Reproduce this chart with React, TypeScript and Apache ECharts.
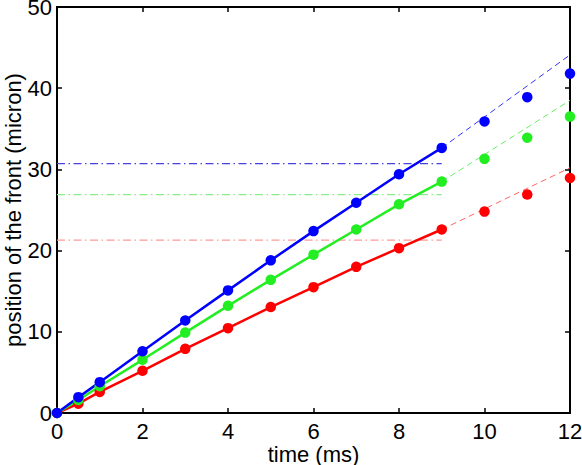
import React, { useEffect, useRef } from "react";
import * as echarts from "echarts";

const times = [0, 0.5, 1, 2, 3, 4, 5, 6, 7, 8, 9, 10, 11, 12];
const blueFront = [0, 1.95, 3.8, 7.6, 11.4, 15.1, 18.8, 22.4, 25.9, 29.4, 32.65, 35.9, 38.9, 41.8];
const greenFront = [0, 1.6, 3.3, 6.55, 9.9, 13.2, 16.4, 19.5, 22.6, 25.7, 28.5, 31.3, 33.9, 36.5];
const redFront = [0, 1.15, 2.6, 5.2, 7.9, 10.45, 13.05, 15.5, 18.0, 20.3, 22.6, 24.8, 26.9, 28.95];

// fit end (t = 9) and extrapolated value at t = 12
const fitEndTime = 9;
const extrapTime = 12;
const blueExtrap = 44.1;
const greenExtrap = 38.5;
const redExtrap = 30.2;

// horizontal reference levels
const blueLevel = 30.7;
const greenLevel = 26.9;
const redLevel = 21.3;

const xTicks = [0, 2, 4, 6, 8, 10, 12];
const yTicks = [0, 10, 20, 30, 40, 50];

const BLUE = "#0000ff";
const GREEN = "#22ee22";
const RED = "#ff0000";

function pairs(ts: number[], vs: number[], from: number, to: number) {
  const out: number[][] = [];
  for (let i = 0; i < ts.length; i++) {
    if (ts[i] >= from && ts[i] <= to) out.push([ts[i], vs[i]]);
  }
  return out;
}

function groupSeries(vals: number[], extrap: number, level: number, color: string, dashColor: string, levelColor: string) {
  const v9 = vals[times.indexOf(fitEndTime)];
  return [
    {
      type: "line",
      data: [[0, level], [fitEndTime, level]],
      symbol: "none",
      lineStyle: { color: levelColor, width: 1.2, type: [8, 3.5, 1.5, 3.5] },
      silent: true,
      z: 1,
    },
    {
      type: "line",
      data: [[fitEndTime, v9], [extrapTime, extrap]],
      symbol: "none",
      lineStyle: { color: dashColor, width: 1, type: [6, 4] },
      silent: true,
      z: 2,
    },
    {
      type: "line",
      data: pairs(times, vals, 0, fitEndTime),
      symbol: "circle",
      symbolSize: 10.5,
      showSymbol: true,
      lineStyle: { color, width: 2.5 },
      itemStyle: { color, opacity: 1 },
      z: 3,
    },
    {
      type: "scatter",
      data: pairs(times, vals, fitEndTime + 0.5, extrapTime),
      symbol: "circle",
      symbolSize: 10.5,
      itemStyle: { color, opacity: 1 },
      z: 3,
    },
  ];
}

export default function App() {
  const ref = useRef<HTMLDivElement>(null);
  useEffect(() => {
    document.body.style.margin = "0";
    if (!ref.current) return;
    const chart = echarts.init(ref.current, undefined, { renderer: "svg" });
    const font = "Liberation Sans";
    const mkLine = () => ({ show: true, onZero: false, lineStyle: { color: "#000", width: 2 } });
    const mkTick = () => ({ show: true, inside: true, length: 5, lineStyle: { color: "#000", width: 1.5 } });
    chart.setOption({
      animation: false,
      backgroundColor: "#fff",
      grid: {
        left: 57, right: 12, top: 7, bottom: 52,
        containLabel: false,
        outerBoundsMode: "none",
        show: true, borderColor: "#000", borderWidth: 2, backgroundColor: "transparent",
      },
      xAxis: [
        {
          type: "value",
          min: xTicks[0],
          max: xTicks[xTicks.length - 1],
          interval: 2,
          position: "bottom",
          name: "time (ms)",
          nameLocation: "middle",
          nameGap: 30,
          nameMoveOverlap: false,
          nameTextStyle: { color: "#000", fontSize: 22, fontFamily: font },
          axisLine: mkLine(),
          axisTick: mkTick(),
          splitLine: { show: false },
          axisLabel: { color: "#000", fontSize: 22, fontFamily: font, margin: 7 },
        },
        {
          type: "value",
          min: xTicks[0],
          max: xTicks[xTicks.length - 1],
          interval: 2,
          position: "top",
          axisLine: mkLine(),
          axisTick: mkTick(),
          splitLine: { show: false },
          axisLabel: { show: false },
        },
      ],
      yAxis: [
        {
          type: "value",
          min: yTicks[0],
          max: yTicks[yTicks.length - 1],
          interval: 10,
          position: "left",
          name: "position of the front (micron)",
          nameLocation: "middle",
          nameGap: 34,
          nameMoveOverlap: false,
          nameTextStyle: { color: "#000", fontSize: 22, fontFamily: font, lineHeight: 20 },
          axisLine: mkLine(),
          axisTick: mkTick(),
          splitLine: { show: false },
          axisLabel: { color: "#000", fontSize: 22, fontFamily: font, margin: 5, lineHeight: 16 },
        },
        {
          type: "value",
          min: yTicks[0],
          max: yTicks[yTicks.length - 1],
          interval: 10,
          position: "right",
          axisLine: mkLine(),
          axisTick: mkTick(),
          splitLine: { show: false },
          axisLabel: { show: false },
        },
      ],
      series: [
        { type: "line", xAxisIndex: 1, yAxisIndex: 1, data: [], silent: true },
        ...groupSeries(redFront, redExtrap, redLevel, RED, "#ff6666", "#ff9999"),
        ...groupSeries(greenFront, greenExtrap, greenLevel, GREEN, "#66ee66", "#88ee88"),
        ...groupSeries(blueFront, blueExtrap, blueLevel, BLUE, "#3333ff", "#4444dd"),
      ],
    });
    return () => chart.dispose();
  }, []);
  return <div ref={ref} style={{ width: 582, height: 465 }} />;
}
